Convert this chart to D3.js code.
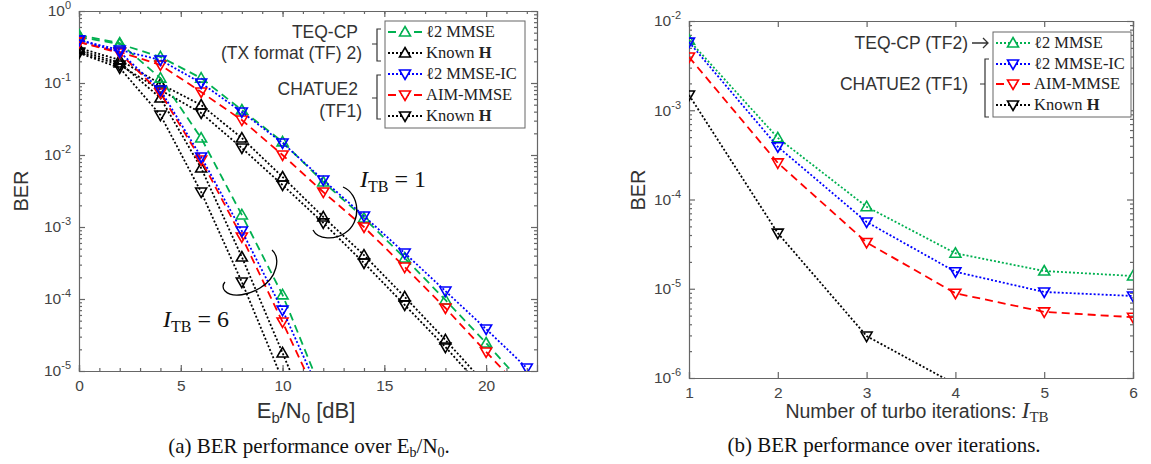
<!DOCTYPE html>
<html lang="en">
<head>
<meta charset="utf-8">
<script src="https://d3js.org/d3.v7.min.js"></script>
<style>
body { margin: 0; background: #fff; }
.axis path, .axis line { stroke: #666; stroke-width: 1.2; }
.tick text { font-family: "Liberation Sans", Arial, sans-serif; font-size: 15.5px; fill: #444; }
.note { font-family: "Liberation Sans", Arial, sans-serif; font-size: 17.5px; fill: #333; }
.leg { font-family: "Liberation Serif", "DejaVu Serif", serif; font-size: 16.5px; fill: #222; }
.lab { font-family: "Liberation Sans", Arial, sans-serif; fill: #333; }
.cap { font-family: "Liberation Serif", serif; font-size: 21px; fill: #111; }
.itb { font-family: "Liberation Serif", serif; font-size: 24px; fill: #111; }
</style>
</head>
<body>
<svg id="chart" width="1151" height="464"></svg>
<script>
// ---- data: (a) BER vs Eb/N0 ----
var ebn0 = [0, 2, 4, 6, 8, 10, 12, 14, 16, 18, 20, 22];
// I_TB = 1
var tf2_l2mmse_1 = [0.435, 0.348, 0.230, 0.117, 0.0422, 0.0152, 0.00422, 0.00133, 3.71e-4, 9.7e-5, 2.45e-5, 5.8e-6];
var tf2_known_1  = [0.306, 0.209, 0.0968, 0.0495, 0.0172, 0.00495, 0.00138, 4.08e-4, 1.07e-4, 2.7e-5, 6.4e-6];
var tf1_l2mmseic_1 = [0.395, 0.287, 0.209, 0.1, 0.0396, 0.0147, 0.0045, 0.00142, 4.35e-4, 1.29e-4, 3.83e-5, 1.1e-5];
var tf1_aimmmse_1  = [0.371, 0.270, 0.178, 0.075, 0.0306, 0.01, 0.00306, 0.001, 2.78e-4, 7.5e-5, 1.84e-5, 4.6e-6];
var tf1_known_1    = [0.270, 0.178, 0.080, 0.0383, 0.0125, 0.00383, 0.00114, 3.16e-4, 8.26e-5, 2.15e-5, 5.1e-6];
// I_TB = 6
var tf2_l2mmse_6 = [0.464, 0.359, 0.117, 0.0172, 0.00147, 1.14e-4, 4.6e-6];
var tf2_known_6  = [0.287, 0.19, 0.0619, 0.00659, 3.83e-4, 1.78e-5, 8e-7];
var tf1_l2mmseic_6 = [0.395, 0.270, 0.080, 0.00938, 8.8e-4, 7.0e-5, 3.95e-6];
var tf1_aimmmse_6  = [0.371, 0.261, 0.0727, 0.00853, 7.27e-4, 4.8e-5, 2.9e-6];
var tf1_known_6    = [0.261, 0.162, 0.0359, 0.00306, 1.72e-4, 7.5e-6];

// ---- data: (b) BER vs iterations ----
var iters = [1, 2, 3, 4, 5, 6];
var it_tf2_l2mmse   = [6.1e-3, 4.9e-4, 8.3e-5, 2.5e-5, 1.58e-5, 1.39e-5];
var it_tf1_l2mmseic = [5.8e-3, 3.9e-4, 5.6e-5, 1.55e-5, 9.2e-6, 8.3e-6];
var it_tf1_aimmmse  = [3.95e-3, 2.57e-4, 3.3e-5, 8.9e-6, 5.5e-6, 4.8e-6];
var it_tf1_known    = [1.48e-3, 4.2e-5, 2.95e-6, 8.5e-7];

var leftLegend = ["ℓ2 MMSE", "Known H", "ℓ2 MMSE-IC", "AIM-MMSE", "Known H"];
var rightLegend = ["ℓ2 MMSE", "ℓ2 MMSE-IC", "AIM-MMSE", "Known H"];

var GREEN = "#00b050", BLUE = "#0000ff", RED = "#ff0000", BLACK = "#000";
var DASH = "8,5", DOT = "2,2";

var svg = d3.select("#chart");

function tri(up) {
  return up ? "M0,-5.5L5.5,4L-5.5,4Z" : "M0,5.5L5.5,-4L-5.5,-4Z";
}

function panel(id, xr, yr, xd, yd, xMajor, xMinor) {
  var x = d3.scaleLinear().domain(xd).range(xr);
  var y = d3.scaleLog().domain(yd).range(yr);
  var g = svg.append("g");
  var lo = Math.round(Math.log10(yd[0])), hi = Math.round(Math.log10(yd[1]));
  var yMajor = d3.range(lo, hi + 1).map(function(e) { return Math.pow(10, e); });
  var yMinor = [];
  for (var e = lo; e < hi; e++) for (var m = 2; m < 10; m++) yMinor.push(m * Math.pow(10, e));

  g.append("g").attr("class", "axis").attr("transform", "translate(0," + yr[0] + ")")
    .call(d3.axisBottom(x).tickValues(xMajor).tickSize(-6).tickPadding(9).tickFormat(d3.format("d")));
  g.append("g").attr("class", "axis").attr("transform", "translate(0," + yr[1] + ")")
    .call(d3.axisTop(x).tickValues(xMajor).tickSize(-6).tickFormat(""));
  if (xMinor) {
    g.append("g").attr("class", "axis").attr("transform", "translate(0," + yr[0] + ")")
      .call(d3.axisBottom(x).tickValues(xMinor).tickSize(-3).tickFormat("")).select(".domain").remove();
    g.append("g").attr("class", "axis").attr("transform", "translate(0," + yr[1] + ")")
      .call(d3.axisTop(x).tickValues(xMinor).tickSize(-3).tickFormat("")).select(".domain").remove();
  }
  g.append("g").attr("class", "axis").attr("transform", "translate(" + xr[0] + ",0)")
    .call(d3.axisLeft(y).tickValues(yMajor).tickSize(-6).tickPadding(8))
    .selectAll(".tick text").each(function(d) {
      var t = d3.select(this);
      t.text("10");
      t.append("tspan").attr("dy", "-7").style("font-size", "11px").text(Math.round(Math.log10(d)));
    });
  g.append("g").attr("class", "axis").attr("transform", "translate(" + xr[1] + ",0)")
    .call(d3.axisRight(y).tickValues(yMajor).tickSize(-6).tickFormat(""));
  [[xr[0], d3.axisLeft], [xr[1], d3.axisRight]].forEach(function(a) {
    g.append("g").attr("class", "axis").attr("transform", "translate(" + a[0] + ",0)")
      .call(a[1](y).tickValues(yMinor).tickSize(-3).tickFormat("")).select(".domain").remove();
  });

  svg.append("clipPath").attr("id", id).append("rect")
    .attr("x", xr[0]).attr("y", yr[1]).attr("width", xr[1] - xr[0]).attr("height", yr[0] - yr[1]);
  var plot = svg.append("g").attr("clip-path", "url(#" + id + ")");
  return { x: x, y: y, plot: plot };
}

function series(p, xs, ys, color, dash, up) {
  var pts = ys.map(function(v, i) { return [xs[i], v]; });
  var line = d3.line().x(function(d) { return p.x(d[0]); }).y(function(d) { return p.y(d[1]); });
  p.plot.append("path").attr("d", line(pts)).attr("fill", "none")
    .attr("stroke", color).attr("stroke-width", 1.8).attr("stroke-dasharray", dash);
  p.plot.selectAll(null).data(pts).enter().append("path")
    .attr("d", tri(up))
    .attr("transform", function(d) { return "translate(" + p.x(d[0]) + "," + p.y(d[1]) + ")"; })
    .attr("fill", "none").attr("stroke", color).attr("stroke-width", 1.6);
}

function legendRow(x0, y0, label, color, dash, up, bold) {
  svg.append("line").attr("x1", x0).attr("x2", x0 + 34).attr("y1", y0).attr("y2", y0)
    .attr("stroke", color).attr("stroke-width", 1.8).attr("stroke-dasharray", dash);
  svg.append("path").attr("d", tri(up)).attr("transform", "translate(" + (x0 + 17) + "," + y0 + ")")
    .attr("fill", "#fff").attr("stroke", color).attr("stroke-width", 1.6);
  var t = svg.append("text").attr("class", "leg").attr("x", x0 + 38).attr("y", y0 + 5);
  if (bold) {
    t.append("tspan").text(label.slice(0, -1));
    t.append("tspan").style("font-weight", "bold").text(label.slice(-1));
  } else t.text(label);
}

function bracket(x, y1, y2, ym) {
  svg.append("path").attr("d", "M" + (x + 4) + "," + y1 + "H" + x + "V" + y2 + "H" + (x + 4) + "M" + x + "," + ym + "H" + (x - 5))
    .attr("fill", "none").attr("stroke", "#333").attr("stroke-width", 1.2);
}

function itbLabel(x, y, n) {
  var t = svg.append("text").attr("class", "itb").attr("x", x).attr("y", y);
  t.append("tspan").style("font-style", "italic").text("I");
  t.append("tspan").attr("dy", 5).style("font-size", "16px").text("TB");
  t.append("tspan").attr("dy", -5).text(" = " + n);
}

// ---------- panel (a) ----------
var A = panel("clipA", [79, 537], [371, 11], [0, 22.5], [1e-5, 1], [0, 5, 10, 15, 20], d3.range(0, 23));
var xs = ebn0;
series(A, xs, tf1_known_6, BLACK, DOT, false);
series(A, xs, tf2_known_6, BLACK, DOT, true);
series(A, xs, tf1_known_1, BLACK, DOT, false);
series(A, xs, tf2_known_1, BLACK, DOT, true);
series(A, xs, tf2_l2mmse_6, GREEN, DASH, true);
series(A, xs, tf2_l2mmse_1, GREEN, DASH, true);
series(A, xs, tf1_aimmmse_6, RED, DASH, false);
series(A, xs, tf1_aimmmse_1, RED, DASH, false);
series(A, xs, tf1_l2mmseic_6, BLUE, DOT, false);
series(A, xs, tf1_l2mmseic_1, BLUE, DOT, false);

svg.append("rect").attr("x", 385).attr("y", 21).attr("width", 140).attr("height", 107)
  .attr("fill", "#fff").attr("stroke", "#666").attr("stroke-width", 1);
var lStyle = [[GREEN, DASH, true], [BLACK, DOT, true], [BLUE, DOT, false], [RED, DASH, false], [BLACK, DOT, false]];
var lRows = [32, 53, 74, 95, 116];
leftLegend.forEach(function(s, i) {
  legendRow(388, lRows[i], s, lStyle[i][0], lStyle[i][1], lStyle[i][2], s === "Known H");
});
svg.append("text").attr("class", "note").attr("x", 358).attr("y", 38).attr("text-anchor", "end").text("TEQ-CP");
svg.append("text").attr("class", "note").attr("x", 362).attr("y", 59).attr("text-anchor", "end").text("(TX format (TF) 2)");
svg.append("text").attr("class", "note").attr("x", 358).attr("y", 95).attr("text-anchor", "end").text("CHATUE2");
svg.append("text").attr("class", "note").attr("x", 362).attr("y", 117).attr("text-anchor", "end").text("(TF1)");
bracket(377, 29, 61, 44);
bracket(377, 75, 119, 98);

itbLabel(360, 187, 1);
itbLabel(163, 327, 6);
svg.append("path").attr("d", "M343,187C360,194 362,222 345,233C335,240 318,240 313,230")
  .attr("fill", "none").attr("stroke", "#000").attr("stroke-width", 1.3);
svg.append("path").attr("d", "M272,250C281,258 277,278 260,288C250,294 233,299 225,291C222,288 223,284 225,282")
  .attr("fill", "none").attr("stroke", "#000").attr("stroke-width", 1.3);

svg.append("text").attr("class", "lab").attr("transform", "translate(28,191)rotate(-90)")
  .attr("text-anchor", "middle").style("font-size", "20px").text("BER");
var xl = svg.append("text").attr("class", "lab").attr("x", 306).attr("y", 418)
  .attr("text-anchor", "middle").style("font-size", "22px");
xl.append("tspan").text("E");
xl.append("tspan").attr("dy", 5).style("font-size", "15px").text("b");
xl.append("tspan").attr("dy", -5).text("/N");
xl.append("tspan").attr("dy", 5).style("font-size", "15px").text("0");
xl.append("tspan").attr("dy", -5).text(" [dB]");
var ca = svg.append("text").attr("class", "cap").attr("x", 309).attr("y", 453).attr("text-anchor", "middle");
ca.append("tspan").text("(a) BER performance over E");
ca.append("tspan").attr("dy", 4).style("font-size", "14px").text("b");
ca.append("tspan").attr("dy", -4).text("/N");
ca.append("tspan").attr("dy", 4).style("font-size", "14px").text("0");
ca.append("tspan").attr("dy", -4).text(".");

// ---------- panel (b) ----------
var B = panel("clipB", [689, 1133], [378, 21], [1, 6], [1e-6, 1e-2], iters, null);
series(B, iters, it_tf1_known, BLACK, DOT, false);
series(B, iters, it_tf1_aimmmse, RED, DASH, false);
series(B, iters, it_tf2_l2mmse, GREEN, DOT, true);
series(B, iters, it_tf1_l2mmseic, BLUE, DOT, false);

svg.append("rect").attr("x", 993).attr("y", 32).attr("width", 138).attr("height", 85)
  .attr("fill", "#fff").attr("stroke", "#666").attr("stroke-width", 1);
var rStyle = [[GREEN, DOT, true], [BLUE, DOT, false], [RED, DASH, false], [BLACK, DOT, false]];
var rRows = [43, 64, 84, 105];
rightLegend.forEach(function(s, i) {
  legendRow(996, rRows[i], s, rStyle[i][0], rStyle[i][1], rStyle[i][2], s === "Known H");
});
svg.append("text").attr("class", "note").attr("x", 968).attr("y", 49).attr("text-anchor", "end").text("TEQ-CP (TF2)");
svg.append("text").attr("class", "note").attr("x", 968).attr("y", 90).attr("text-anchor", "end").text("CHATUE2 (TF1)");
svg.append("path").attr("d", "M972,43H988M983,38L988,43L983,48")
  .attr("fill", "none").attr("stroke", "#333").attr("stroke-width", 1.3);
bracket(985, 59, 117, 84);

svg.append("text").attr("class", "lab").attr("transform", "translate(645,190)rotate(-90)")
  .attr("text-anchor", "middle").style("font-size", "20px").text("BER");
var xb = svg.append("text").attr("class", "lab").attr("x", 917).attr("y", 418)
  .attr("text-anchor", "middle").style("font-size", "19.5px");
xb.append("tspan").text("Number of turbo iterations: ");
xb.append("tspan").style("font-family", "Liberation Serif, serif").style("font-style", "italic").style("font-size", "23px").text("I");
xb.append("tspan").attr("dy", 4).style("font-family", "Liberation Serif, serif").style("font-size", "15px").text("TB");
svg.append("text").attr("class", "cap").attr("x", 884).attr("y", 452).attr("text-anchor", "middle")
  .text("(b) BER performance over iterations.");
</script>
</body>
</html>
